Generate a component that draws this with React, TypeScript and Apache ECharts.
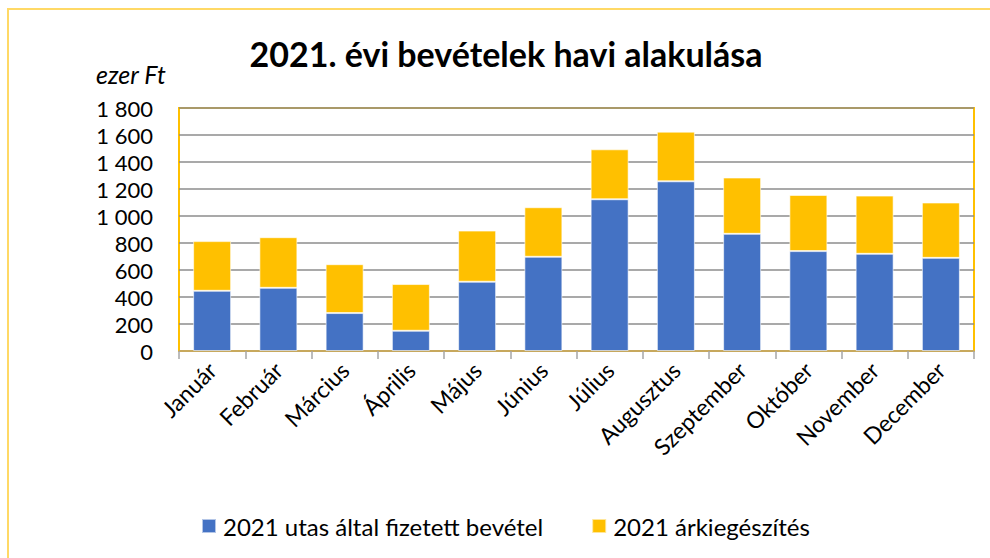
import React, { useEffect, useRef } from "react";
import * as echarts from "echarts";

const categories = ["Január", "Február", "Március", "Április", "Május", "Június", "Július", "Augusztus", "Szeptember", "Október", "November", "December"];
const paidByPassenger = [446, 468, 281, 150, 513, 698, 1124, 1257, 868, 740, 720, 690];
const priceSupplement = [368, 375, 362, 346, 379, 367, 370, 368, 417, 416, 431, 410];
const seriesNames = ["2021 utas által fizetett bevétel", "2021 árkiegészítés"];
const titleText = "2021. évi bevételek havi alakulása";
const unitText = "ezer Ft";

const FONT = "Lato, 'Open Sans', sans-serif";

export default function App() {
  const ref = useRef<HTMLDivElement>(null);
  useEffect(() => {
    if (!ref.current) return;
    const chart = echarts.init(ref.current, null, { renderer: "svg" });
    chart.setOption({
      animation: false,
      backgroundColor: "#ffffff",
      textStyle: { fontFamily: FONT },
      graphic: [
        {
          type: "rect",
          shape: { x: 8, y: 9, width: 1200, height: 800 },
          style: { fill: "none", stroke: "#FFD966", lineWidth: 2 },
          silent: true,
        },
        {
          type: "text",
          x: 506,
          y: 53,
          style: {
            text: titleText,
            fontFamily: FONT,
            fontSize: 34,
            fontWeight: "bold",
            fill: "#000",
            align: "center",
            verticalAlign: "middle",
          },
        },
        {
          type: "text",
          x: 96,
          y: 74,
          style: {
            text: unitText,
            fontFamily: FONT,
            fontSize: 25,
            fontStyle: "italic",
            fill: "#000",
            align: "left",
            verticalAlign: "middle",
          },
        },
      ],
      legend: {
        left: 196,
        top: 509,
        itemWidth: 14,
        itemHeight: 14,
        itemGap: 48,
        icon: "rect",
        textStyle: { fontFamily: FONT, fontSize: 24, color: "#000", padding: [0, 0, 0, 2] },
        data: seriesNames,
      },
      grid: {
        left: 179,
        top: 108,
        right: 16,
        bottom: 207,
        show: true,
        borderColor: "#FFC000",
        borderWidth: 2,
        containLabel: false,
      },
      xAxis: {
        type: "category",
        data: categories,
        boundaryGap: true,
        axisLine: { show: true, lineStyle: { color: "#D2AE5A", width: 1.5 } },
        axisTick: { show: true, length: 8, lineStyle: { color: "#A6A6A6", width: 1.5 } },
        axisLabel: { rotate: 45, margin: 15, fontFamily: FONT, fontSize: 23, color: "#000" },
      },
      yAxis: {
        type: "value",
        min: 0,
        max: 1800,
        interval: 200,
        axisLine: { show: false },
        axisTick: { show: false },
        splitLine: { lineStyle: { color: "#8C8C8C", width: 1.5 } },
        axisLabel: {
          margin: 26,
          fontFamily: FONT,
          fontSize: 22,
          color: "#000",
          formatter: (v: number) => String(v).replace(/\B(?=(\d{3})+(?!\d))/g, " "),
        },
      },
      series: [
        {
          name: seriesNames[0],
          type: "bar",
          stack: "total",
          data: paidByPassenger,
          barWidth: 38,
          itemStyle: { color: "#4472C4", borderColor: "rgba(255,255,255,0.6)", borderWidth: 1 },
        },
        {
          name: seriesNames[1],
          type: "bar",
          stack: "total",
          data: priceSupplement,
          barWidth: 38,
          itemStyle: { color: "#FFC000", borderColor: "rgba(255,255,255,0.6)", borderWidth: 1 },
        },
      ],
    });
    return () => chart.dispose();
  }, []);
  return <div ref={ref} style={{ position: "fixed", left: 0, top: 0, width: 990, height: 558 }} />;
}
